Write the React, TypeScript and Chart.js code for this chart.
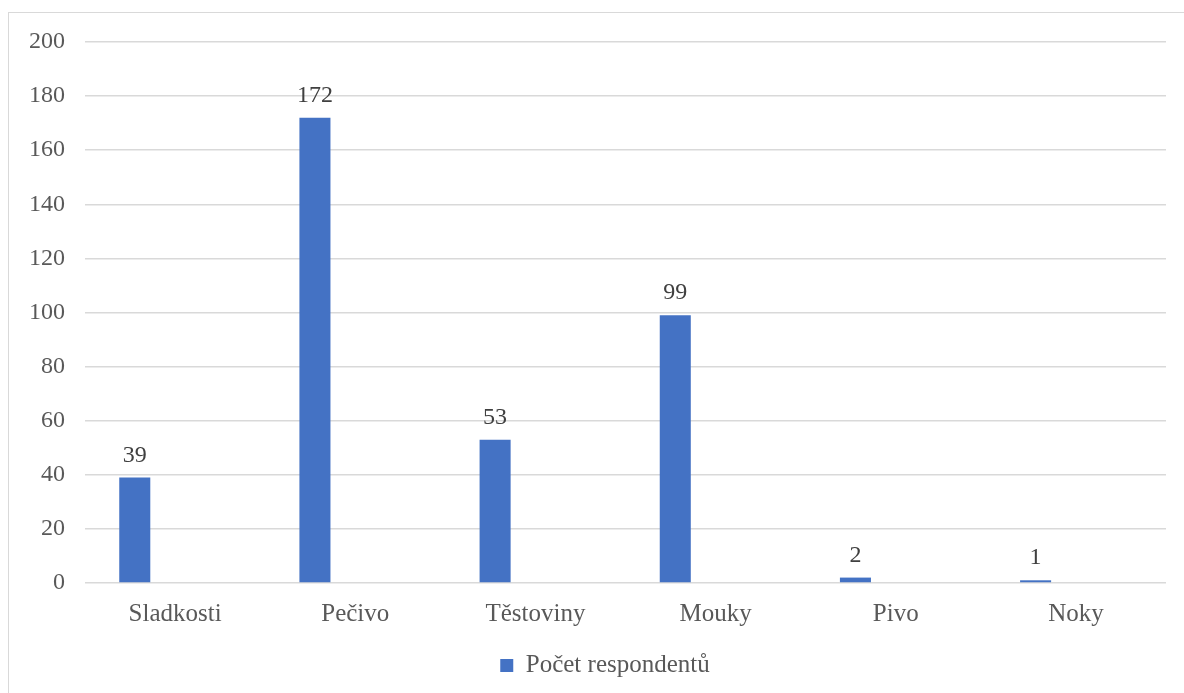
import React, { useEffect, useRef } from "react";
import { Chart, registerables } from "chart.js";

Chart.register(...registerables);

const categories = ["Sladkosti", "Pečivo", "Těstoviny", "Mouky", "Pivo", "Noky"];
const respondents = [39, 172, 53, 99, 2, 1];
const seriesLabel = "Počet respondentů";
const yTicks = [0, 20, 40, 60, 80, 100, 120, 140, 160, 180, 200];

const FONT = '"Liberation Serif", "Times New Roman", serif';
const TEXT = "#595959";
const BAR = "#4472C4";
const GRID = "#d9d9d9";

// Writes each bar's value just above it.
const valueLabels = {
  id: "valueLabels",
  afterDatasetsDraw(chart: any) {
    const { ctx } = chart;
    const meta = chart.getDatasetMeta(0);
    const data = chart.data.datasets[0].data as number[];
    ctx.save();
    ctx.font = `24px ${FONT}`;
    ctx.fillStyle = "#404040";
    ctx.textAlign = "center";
    ctx.textBaseline = "alphabetic";
    meta.data.forEach((bar: any, i: number) => {
      ctx.fillText(String(data[i]), bar.x, bar.y - 16);
    });
    ctx.restore();
  },
};

// Nudges the bottom legend so it sits under the middle of the plot area.
const legendShift = {
  id: "legendShift",
  afterLayout(chart: any) {
    const lg = chart.legend;
    if (lg) {
      lg.left += 12;
      lg.right += 12;
    }
  },
};

export default function App() {
  const canvasRef = useRef<HTMLCanvasElement | null>(null);

  useEffect(() => {
    if (!canvasRef.current) return;
    const chart = new Chart(canvasRef.current, {
      type: "bar",
      data: {
        labels: categories,
        datasets: [
          {
            label: seriesLabel,
            data: respondents,
            backgroundColor: BAR,
            categoryPercentage: 0.895,
            barPercentage: 0.385,
          },
          {
            // empty companion series keeps the bars in the left slot
            label: "",
            data: categories.map(() => null),
            backgroundColor: "transparent",
            categoryPercentage: 0.895,
            barPercentage: 0.385,
          },
        ],
      },
      options: {
        animation: false,
        responsive: true,
        maintainAspectRatio: false,
        layout: { padding: { left: 20, right: 18, top: 42, bottom: 5 } },
        plugins: {
          tooltip: { enabled: false },
          legend: {
            position: "bottom",
            labels: {
              filter: (item: any) => item.datasetIndex === 0,
              boxWidth: 13,
              boxHeight: 13,
              color: TEXT,
              padding: 10,
              font: { family: FONT, size: 25 },
            },
          },
        },
        scales: {
          x: {
            grid: { display: false },
            border: { display: false },
            ticks: {
              color: TEXT,
              padding: 8,
              font: { family: FONT, size: 25 },
              maxRotation: 0,
            },
            afterFit(scale: any) {
              scale.height = 60;
            },
          },
          y: {
            min: 0,
            max: 200,
            afterBuildTicks(scale: any) {
              scale.ticks = yTicks.map((v) => ({ value: v }));
            },
            grid: { color: GRID, lineWidth: 1.5, drawTicks: false },
            border: { display: false },
            ticks: {
              color: TEXT,
              padding: 20,
              font: { family: FONT, size: 24 },
            },
            afterFit(scale: any) {
              scale.width = 65;
            },
          },
        },
      },
      plugins: [valueLabels, legendShift],
    });
    return () => chart.destroy();
  }, []);

  return (
    <>
      <div
        style={{
          position: "fixed",
          left: 8,
          top: 12,
          width: 1200,
          height: 700,
          border: "1px solid #d9d9d9",
          background: "#ffffff",
        }}
      />
      <div style={{ position: "fixed", left: 0, top: 0, width: 1184, height: 693 }}>
        <canvas ref={canvasRef} />
      </div>
    </>
  );
}
